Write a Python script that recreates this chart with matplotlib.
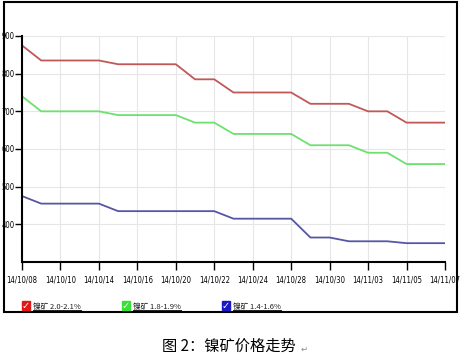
"""
Nickel ore price trend chart (three grade bands), styled like an
old web chart screenshot with a caption underneath.
"""

import matplotlib
matplotlib.use("Agg")
import matplotlib.pyplot as plt
from matplotlib.patches import Rectangle
from matplotlib.lines import Line2D

# ---------------------------------------------------------------------------
# Data
# ---------------------------------------------------------------------------

tick_labels = ["14/10/08", "14/10/10", "14/10/14", "14/10/16", "14/10/20",
               "14/10/22", "14/10/24", "14/10/28", "14/10/30", "14/11/03",
               "14/11/05", "14/11/07"]

grade_20_21 = [875, 835, 835, 835, 835, 825, 825, 825, 825, 785, 785, 750,
               750, 750, 750, 720, 720, 720, 700, 700, 670, 670, 670]
grade_18_19 = [740, 700, 700, 700, 700, 690, 690, 690, 690, 670, 670, 640,
               640, 640, 640, 610, 610, 610, 590, 590, 560, 560, 560]
grade_14_16 = [475, 455, 455, 455, 455, 435, 435, 435, 435, 435, 435, 415,
               415, 415, 415, 365, 365, 355, 355, 355, 350, 350, 350]

series_names = ["镍矿 2.0-2.1%", "镍矿 1.8-1.9%", "镍矿 1.4-1.6%"]
line_colors = ["#c05858", "#6ee06e", "#5656a6"]
box_colors = ["#e01818", "#38e038", "#1818c8"]

caption = "图 2：镍矿价格走势"

# ---------------------------------------------------------------------------
# Figure setup (pixel helpers for a 462x356 canvas)
# ---------------------------------------------------------------------------

W, H = 462, 356


def px(x):
    return x / W


def py(y):
    return 1 - y / H


CJK = ["Noto Sans CJK SC", "DejaVu Sans"]
tick_font = dict(family="DejaVu Sans", stretch="condensed", size=5.5)

fig = plt.figure(figsize=(W / 100, H / 100), dpi=100)
fig.patch.set_facecolor("white")

# outer frame
fig.patches.append(Rectangle((px(4), py(312)), px(457) - px(4), py(2) - py(312),
                             transform=fig.transFigure, fill=False,
                             edgecolor="black", linewidth=1.5))

ax = fig.add_axes([px(22), py(262), px(445) - px(22), py(36) - py(262)])

x = list(range(len(grade_20_21)))
for vals, col in zip([grade_20_21, grade_18_19, grade_14_16], line_colors):
    ax.plot(x, vals, color=col, linewidth=1.3, solid_joinstyle="miter")

ax.set_xlim(0, len(x) - 1)
ax.set_ylim(300, 900)
ax.set_xticks(range(0, len(x), 2))
ax.set_xticklabels(tick_labels, fontdict=tick_font)
ax.set_yticks([400, 500, 600, 700, 800, 900])
ax.set_yticklabels(["400", "500", "600", "700", "800", "900"], fontdict=tick_font)

ax.grid(True, color="#e6e6e6", linewidth=0.8)
ax.set_axisbelow(True)
for side in ["top", "right"]:
    ax.spines[side].set_visible(False)
for side in ["left", "bottom"]:
    ax.spines[side].set_linewidth(1.5)
ax.tick_params(axis="x", length=6, width=1, pad=4)
ax.tick_params(axis="y", length=5, width=1, pad=0.5)

# ---------------------------------------------------------------------------
# Checkbox legend
# ---------------------------------------------------------------------------

renderer = fig.canvas.get_renderer()
box_x = [22, 122, 222]
for bx, name, bcol in zip(box_x, series_names, box_colors):
    fig.patches.append(Rectangle((px(bx), py(310)), px(8), 9 / H,
                                 transform=fig.transFigure,
                                 facecolor=bcol, edgecolor=bcol))
    fig.text(px(bx + 4), py(305.5), "✓", color="white", fontsize=7,
             fontweight="bold", ha="center", va="center",
             family="DejaVu Sans")
    t = fig.text(px(bx + 11), py(308.5), name, fontsize=5.5, family=CJK,
                 color="#202020", ha="left", va="baseline")
    bb = t.get_window_extent(renderer)
    fig.lines.append(Line2D([bb.x0 / W, bb.x1 / W], [py(310), py(310)],
                            transform=fig.transFigure, color="#202020",
                            linewidth=0.7))

# caption
fig.text(px(162), py(346), caption, fontsize=11, family=CJK,
         ha="left", va="center", color="black")
fig.text(px(304), py(349), "↵", fontsize=6, family=CJK,
         ha="center", va="center", color="#888888")

fig.savefig("out.png", dpi=100)
